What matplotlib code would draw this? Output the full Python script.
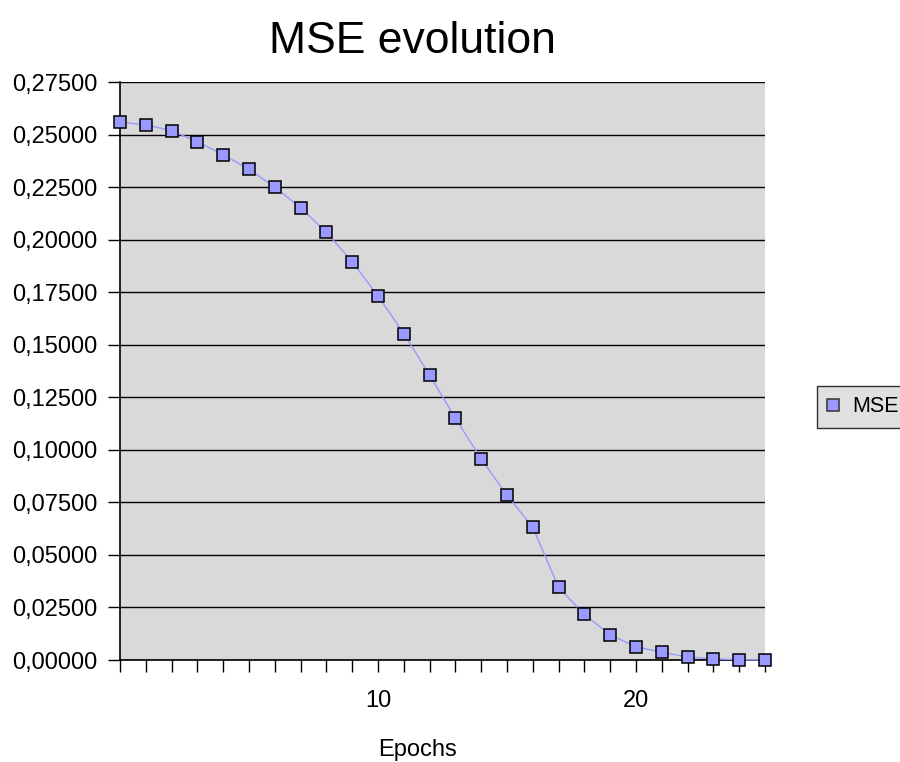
import matplotlib
matplotlib.use("Agg")
import matplotlib.pyplot as plt
from matplotlib.ticker import FixedLocator, FuncFormatter

plt.rcParams['font.family'] = ['Liberation Sans', 'DejaVu Sans']

epochs = list(range(26))
mse = [0.2558, 0.2547, 0.2518, 0.2466, 0.2404, 0.2335, 0.2249, 0.2152, 0.2035,
       0.1895, 0.1732, 0.1553, 0.1355, 0.1150, 0.0956, 0.0784, 0.0631, 0.0345,
       0.0217, 0.0119, 0.0063, 0.0037, 0.0014, 0.0005, 0.0002, 0.0000]
y_ticks = [0.0, 0.025, 0.05, 0.075, 0.1, 0.125, 0.15, 0.175, 0.2, 0.225, 0.25, 0.275]
x_labels = {10: "10", 20: "20"}

fig = plt.figure(figsize=(9, 7.62), dpi=100)
ax = fig.add_axes([120/900, 1-660/762, (765-120)/900, (660-82)/762])
ax.set_facecolor('#d9d9d9')

ax.plot(epochs, mse, color='#9999ff', lw=1, marker='s', markersize=8,
        markerfacecolor='#9999ff', markeredgecolor='#000000', markeredgewidth=1.1,
        label='MSE', zorder=3, clip_on=False)

ax.set_xlim(0, 25)
ax.set_ylim(0, 0.275)
ax.yaxis.set_major_locator(FixedLocator(y_ticks))
ax.yaxis.set_major_formatter(FuncFormatter(lambda v, p: f"{v:.5f}".replace('.', ',')))
ax.xaxis.set_major_locator(FixedLocator(epochs))
ax.xaxis.set_major_formatter(FuncFormatter(lambda v, p: x_labels.get(int(round(v)), "")))

ax.grid(axis='y', color='black', lw=1)
ax.set_axisbelow(True)
for s in ['top', 'right']:
    ax.spines[s].set_visible(False)
ax.spines['left'].set_linewidth(1.2)
ax.spines['bottom'].set_linewidth(1.2)

ax.tick_params(axis='y', direction='out', length=8.6, width=1, pad=7.5, labelsize=17)
ax.tick_params(axis='x', direction='out', length=8.6, width=1, pad=13, labelsize=17)

ax.set_xlabel('Epochs', fontsize=17)
ax.xaxis.label.set_va('center')
ax.xaxis.set_label_coords((418-120)/645, (660-750)/578)

fig.text(0.458, 1-53/762, 'MSE evolution', ha='center', va='baseline', fontsize=32)

leg = fig.legend(loc='center left', bbox_to_anchor=(817/900, 1-407/762), frameon=True,
                 fontsize=15.5, handlelength=0.45, handletextpad=0.68,
                 borderpad=0.5, borderaxespad=0, fancybox=False)
leg.get_frame().set_facecolor('#d9d9d9')
leg.get_frame().set_edgecolor('black')
leg.get_frame().set_linewidth(1)
for h in leg.legend_handles:
    h.set_linestyle('none')
    h.set_markeredgecolor('#333333')

fig.savefig('out.png', dpi=100)
